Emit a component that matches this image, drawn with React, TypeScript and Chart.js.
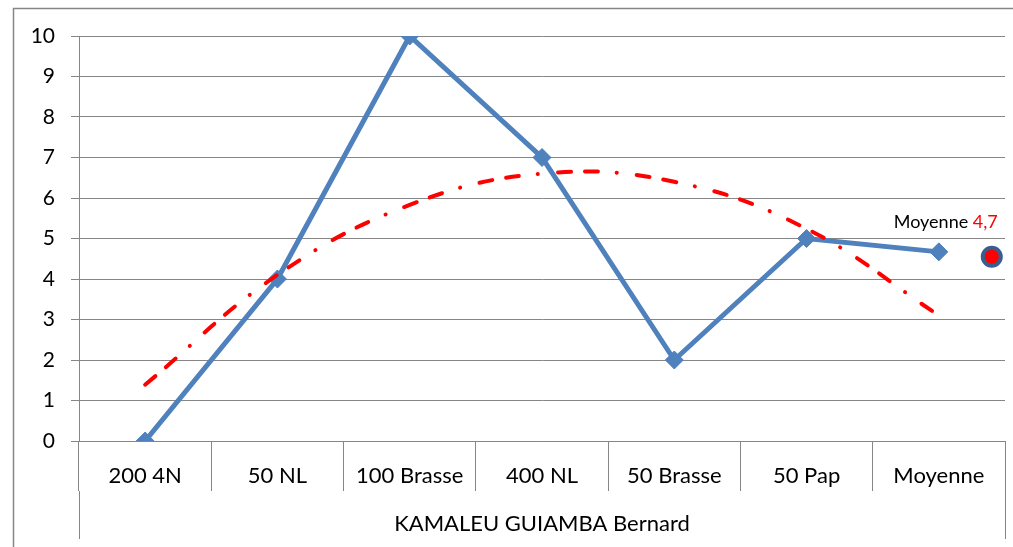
import React, { useEffect, useRef } from 'react';
import { Chart, registerables } from 'chart.js';

Chart.register(...registerables);

const categories = ['200 4N', '50 NL', '100 Brasse', '400 NL', '50 Brasse', '50 Pap', 'Moyenne'];
const groupLabels = ['KAMALEU GUIAMBA Bernard'];
const scores = [0, 4, 10, 7, 2, 5, 4.67];
const trendValues = [1.39, 4.1, 5.83, 6.6, 6.4, 5.24, 3.1];
const meanPointX = [6.4];
const meanPointY = [4.55];
const meanText = 'Moyenne ';
const meanValueText = '4,7';
const yMin = 0;
const yMax = 10;

const GRID = '#868686';
const FONT = 'Lato';

const framePlugin = {
  id: 'frame',
  beforeDraw(chart: any) {
    const { ctx } = chart;
    ctx.save();
    ctx.strokeStyle = GRID;
    ctx.lineWidth = 1.5;
    ctx.beginPath();
    ctx.moveTo(13.5, 1000);
    ctx.lineTo(13.5, 8.5);
    ctx.lineTo(2000, 8.5);
    ctx.stroke();
    ctx.restore();
  },
};

const annotationPlugin = {
  id: 'meanAnnotation',
  afterDatasetsDraw(chart: any) {
    const { ctx } = chart;
    const xs = chart.scales.x2;
    const ys = chart.scales.y;
    const right = xs.getPixelForValue(meanPointX[0]) + 6;
    const base = ys.getPixelForValue(5.26);
    ctx.save();
    ctx.font = `18px ${FONT}`;
    ctx.textBaseline = 'alphabetic';
    ctx.textAlign = 'left';
    const w1 = ctx.measureText(meanText).width;
    const w2 = ctx.measureText(meanValueText).width;
    const start = right - w1 - w2;
    ctx.fillStyle = '#000000';
    ctx.fillText(meanText, start, base);
    ctx.fillStyle = '#ff0000';
    ctx.fillText(meanValueText, start + w1, base);
    ctx.restore();
  },
};

export default function App() {
  const ref = useRef<HTMLCanvasElement | null>(null);

  useEffect(() => {
    if (!ref.current) return;
    const chart = new Chart(ref.current, {
      type: 'line',
      data: {
        labels: categories,
        datasets: [
          {
            label: 'Moyenne',
            data: meanPointX.map((x, i) => ({ x, y: meanPointY[i] })),
            xAxisID: 'x2',
            showLine: false,
            pointRadius: 9,
            pointBorderWidth: 4,
            pointBackgroundColor: '#ff0000',
            pointBorderColor: '#3a5d8f',
            order: 0,
          } as any,
          {
            label: 'Tendance',
            data: trendValues,
            xAxisID: 'x',
            borderColor: '#ff0000',
            borderWidth: 4,
            borderDash: [13, 14, 13, 19, 0.1, 20],
            borderCapStyle: 'round',
            tension: 0.4,
            pointRadius: 0,
            fill: false,
            order: 1,
          },
          {
            label: 'Notes',
            data: scores,
            xAxisID: 'x',
            borderColor: '#4f81bd',
            borderWidth: 5,
            tension: 0,
            pointStyle: 'rectRot',
            pointRadius: 9,
            pointBorderWidth: 1,
            pointBackgroundColor: '#4f81bd',
            pointBorderColor: '#4f81bd',
            fill: false,
            order: 2,
          },
        ],
      },
      options: {
        animation: false,
        responsive: false,
        layout: { autoPadding: false, padding: { top: 36, right: 8, bottom: 0, left: 0 } },
        plugins: {
          legend: { display: false },
          tooltip: { enabled: false },
          title: { display: false },
        },
        scales: {
          x: {
            type: 'category',
            position: 'bottom',
            weight: 0,
            offset: true,
            grid: {
              offset: true,
              drawOnChartArea: false,
              color: GRID,
              tickLength: 50,
            },
            border: { color: GRID },
            ticks: {
              color: '#000000',
              font: { family: FONT, size: 22 },
              padding: -28.5,
              maxRotation: 0,
              autoSkip: false,
            },
            afterFit: (s: any) => {
              s.height = 50;
            },
          },
          xg: {
            type: 'category',
            position: 'bottom',
            weight: 1,
            labels: groupLabels,
            offset: true,
            grid: {
              offset: true,
              drawOnChartArea: false,
              color: GRID,
              tickLength: 48,
            },
            border: { display: false },
            ticks: {
              color: '#000000',
              font: { family: FONT, size: 22 },
              padding: -28,
              maxRotation: 0,
            },
            afterFit: (s: any) => {
              s.height = 56;
            },
          },
          x2: {
            type: 'linear',
            display: false,
            min: -0.5,
            max: 6.5,
          },
          y: {
            type: 'linear',
            min: yMin,
            max: yMax,
            grid: { color: GRID, tickLength: 8 },
            border: { color: GRID },
            ticks: {
              stepSize: 1,
              color: '#000000',
              font: { family: FONT, size: 21 },
              padding: 16,
            },
            afterFit: (s: any) => {
              s.width = 79;
            },
          },
        },
      } as any,
      plugins: [framePlugin, annotationPlugin],
    });
    return () => chart.destroy();
  }, []);

  return (
    <div style={{ position: 'absolute', left: 0, top: 0, width: 1013, height: 547, background: '#ffffff' }}>
      <canvas ref={ref} width={1013} height={547} style={{ display: 'block' }} />
    </div>
  );
}
